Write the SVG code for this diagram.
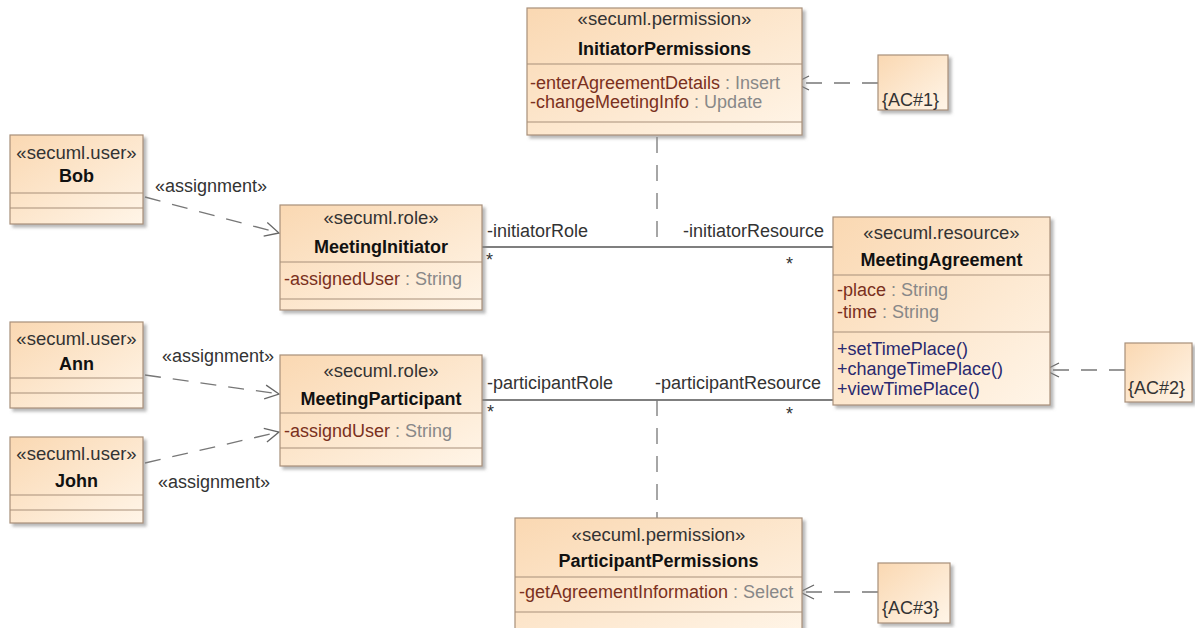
<svg xmlns="http://www.w3.org/2000/svg" width="1195" height="628" viewBox="0 0 1195 628">
<defs>
<linearGradient id="g" x1="0" y1="0" x2="1" y2="1">
<stop offset="0" stop-color="#fad8b2"/>
<stop offset="1" stop-color="#fff5e8"/>
</linearGradient>
<filter id="sh" x="-10%" y="-10%" width="130%" height="130%">
<feDropShadow dx="3" dy="3" stdDeviation="1.5" flood-color="#888" flood-opacity="0.6"/>
</filter>
<marker id="open" viewBox="0 0 16 16" refX="15" refY="8" markerWidth="16" markerHeight="16" orient="auto" markerUnits="userSpaceOnUse">
<path d="M1,1 L15,8 L1,15" fill="none" stroke="#666" stroke-width="1.3"/>
</marker>
</defs>
<style>
.box{fill:url(#g);stroke:#a8907a;stroke-width:1.2;filter:url(#sh)}
.div{stroke:#a8907a;stroke-width:1.2}
text{font-family:"Liberation Sans",Arial,sans-serif;font-size:18px}
.st{fill:#333;text-anchor:middle;font-size:18.5px}
.nm{fill:#111;font-weight:bold;text-anchor:middle}
.an{fill:#7a3020}
.ty{fill:#888}
.op{fill:#2a2a70}
.lb{fill:#333}
.as{fill:#333;font-size:18px}
.dash{fill:none;stroke:#777;stroke-width:1.3;stroke-dasharray:16 12}
.solid{fill:none;stroke:#555;stroke-width:1.3}
</style>
<rect width="1195" height="628" fill="#fff"/>

<g id="connectors">
<line class="dash" x1="145" y1="197" x2="279" y2="233" marker-end="url(#open)"/>
<line class="dash" x1="145" y1="375" x2="279" y2="394" marker-end="url(#open)"/>
<line class="dash" x1="145" y1="463" x2="279" y2="432" marker-end="url(#open)"/>
<line class="solid" x1="482" y1="247" x2="833" y2="247"/>
<line class="solid" x1="482" y1="400" x2="833" y2="400"/>
<line class="dash" x1="657" y1="137" x2="657" y2="247"/>
<line class="dash" x1="657" y1="400" x2="657" y2="518"/>
<line class="dash" x1="878" y1="83" x2="795" y2="83" marker-end="url(#open)"/>
<line class="dash" x1="1125" y1="370" x2="1045" y2="370" marker-end="url(#open)"/>
<line class="dash" x1="878" y1="592" x2="800" y2="592" marker-end="url(#open)"/>
<text class="as" x="155" y="192">«assignment»</text>
<text class="as" x="162" y="362">«assignment»</text>
<text class="as" x="158" y="488">«assignment»</text>
<text class="lb" x="487" y="237">-initiatorRole</text>
<text class="lb" x="486" y="266">*</text>
<text class="lb" x="683" y="237">-initiatorResource</text>
<text class="lb" x="786" y="270">*</text>
<text class="lb" x="487" y="389">-participantRole</text>
<text class="lb" x="487" y="418">*</text>
<text class="lb" x="655" y="389">-participantResource</text>
<text class="lb" x="786" y="420">*</text>
</g>

<g id="bob">
<rect class="box" x="10" y="135" width="133" height="89"/>
<line class="div" x1="10" y1="193" x2="143" y2="193"/>
<line class="div" x1="10" y1="208" x2="143" y2="208"/>
<text class="st" x="76.5" y="159">«secuml.user»</text>
<text class="nm" x="76.5" y="182">Bob</text>
</g>

<g id="ann">
<rect class="box" x="10" y="322" width="133" height="86"/>
<line class="div" x1="10" y1="378" x2="143" y2="378"/>
<line class="div" x1="10" y1="393" x2="143" y2="393"/>
<text class="st" x="76.5" y="345">«secuml.user»</text>
<text class="nm" x="76.5" y="370">Ann</text>
</g>

<g id="john">
<rect class="box" x="10" y="437" width="133" height="86"/>
<line class="div" x1="10" y1="495" x2="143" y2="495"/>
<line class="div" x1="10" y1="510" x2="143" y2="510"/>
<text class="st" x="76.5" y="460">«secuml.user»</text>
<text class="nm" x="76.5" y="487">John</text>
</g>

<g id="meetingInitiator">
<rect class="box" x="280" y="205" width="202" height="105"/>
<line class="div" x1="280" y1="262" x2="482" y2="262"/>
<line class="div" x1="280" y1="299" x2="482" y2="299"/>
<text class="st" x="381" y="224">«secuml.role»</text>
<text class="nm" x="381" y="253">MeetingInitiator</text>
<text x="284" y="285"><tspan class="an">-assignedUser</tspan><tspan class="ty"> : String</tspan></text>
</g>

<g id="meetingParticipant">
<rect class="box" x="280" y="355" width="202" height="111"/>
<line class="div" x1="280" y1="413" x2="482" y2="413"/>
<line class="div" x1="280" y1="448" x2="482" y2="448"/>
<text class="st" x="381" y="377">«secuml.role»</text>
<text class="nm" x="381" y="405">MeetingParticipant</text>
<text x="284" y="437"><tspan class="an">-assigndUser</tspan><tspan class="ty"> : String</tspan></text>
</g>

<g id="initiatorPermissions">
<rect class="box" x="527" y="8" width="275" height="127"/>
<line class="div" x1="527" y1="64" x2="802" y2="64"/>
<line class="div" x1="527" y1="122" x2="802" y2="122"/>
<text class="st" x="664.5" y="25">«secuml.permission»</text>
<text class="nm" x="664.5" y="55">InitiatorPermissions</text>
<text x="530" y="89"><tspan class="an">-enterAgreementDetails</tspan><tspan class="ty"> : Insert</tspan></text>
<text x="530" y="108"><tspan class="an">-changeMeetingInfo</tspan><tspan class="ty"> : Update</tspan></text>
</g>

<g id="meetingAgreement">
<rect class="box" x="833" y="217" width="217" height="188"/>
<line class="div" x1="833" y1="275" x2="1050" y2="275"/>
<line class="div" x1="833" y1="332" x2="1050" y2="332"/>
<text class="st" x="941.5" y="239">«secuml.resource»</text>
<text class="nm" x="941.5" y="266">MeetingAgreement</text>
<text x="837" y="296"><tspan class="an">-place</tspan><tspan class="ty"> : String</tspan></text>
<text x="837" y="318"><tspan class="an">-time</tspan><tspan class="ty"> : String</tspan></text>
<text class="op" x="837" y="355">+setTimePlace()</text>
<text class="op" x="837" y="375">+changeTimePlace()</text>
<text class="op" x="837" y="395">+viewTimePlace()</text>
</g>

<g id="participantPermissions">
<rect class="box" x="515" y="518" width="287" height="118"/>
<line class="div" x1="515" y1="577" x2="802" y2="577"/>
<line class="div" x1="515" y1="612" x2="802" y2="612"/>
<text class="st" x="658.5" y="541">«secuml.permission»</text>
<text class="nm" x="658.5" y="567">ParticipantPermissions</text>
<text x="519" y="598"><tspan class="an">-getAgreementInformation</tspan><tspan class="ty"> : Select</tspan></text>
</g>

<g id="ac1">
<rect class="box" x="878" y="55" width="70" height="55"/>
<text class="lb" x="882" y="106">{AC#1}</text>
</g>

<g id="ac2">
<rect class="box" x="1125" y="343" width="67" height="59"/>
<text class="lb" x="1128" y="394">{AC#2}</text>
</g>

<g id="ac3">
<rect class="box" x="878" y="563" width="72" height="60"/>
<text class="lb" x="882" y="614">{AC#3}</text>
</g>
</svg>
